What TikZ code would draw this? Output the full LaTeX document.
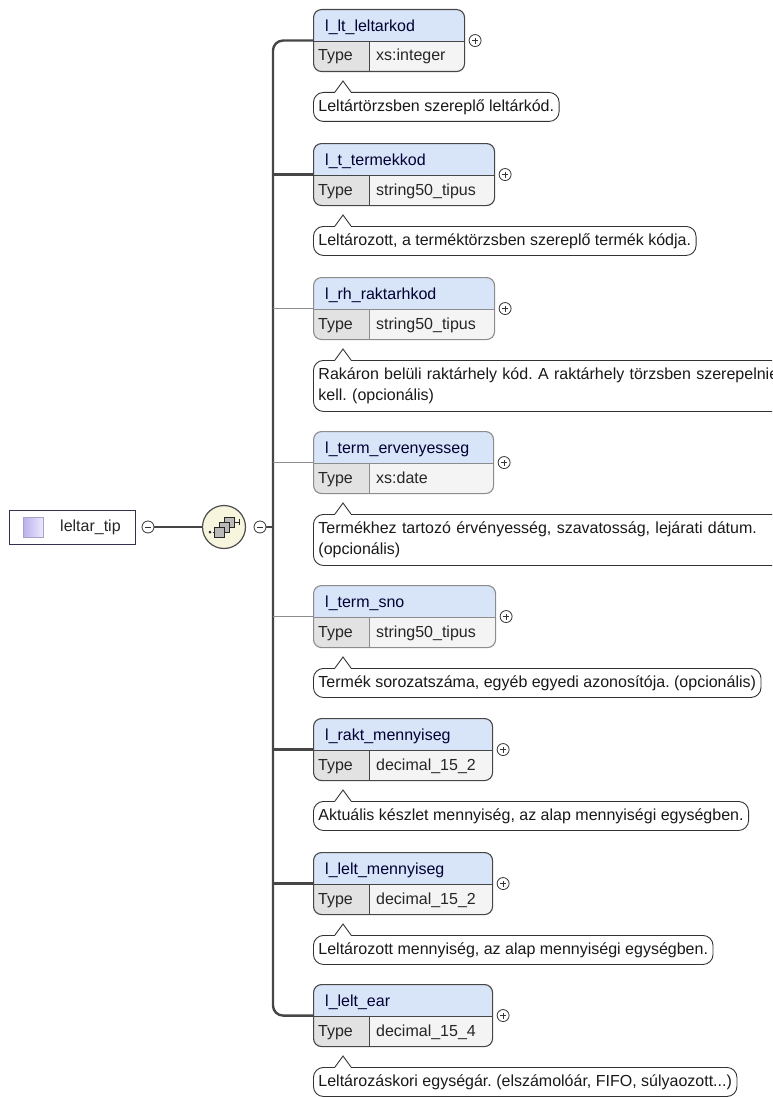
\documentclass[tikz,border=0pt]{standalone}
\usepackage{fontspec}
\setmainfont{Liberation Sans}
\usetikzlibrary{positioning}
\frenchspacing

\definecolor{headblue}{RGB}{216,228,248}
\definecolor{typegray}{RGB}{226,226,226}
\definecolor{valgray}{RGB}{244,244,244}
\definecolor{reqline}{RGB}{70,70,70}
\definecolor{optline}{RGB}{140,140,140}
\definecolor{seqfill}{RGB}{247,245,222}
\definecolor{rootframe}{RGB}{50,50,80}
\definecolor{iconlav}{RGB}{186,176,236}
\definecolor{iconpale}{RGB}{236,233,252}

\begin{document}
\begin{tikzpicture}[x=1pt, y=-1pt, font=\fontsize{16}{21}\selectfont\frenchspacing,
  elem/.style={draw=#1, line width=1.1pt, fill=valgray, rounded corners=8pt, anchor=north west,
    minimum height=62pt, inner sep=0pt,
    path picture={
      \fill[headblue, sharp corners] (path picture bounding box.north west) rectangle ([yshift=-32pt]path picture bounding box.north east);
      \fill[typegray, sharp corners] ([yshift=-32pt]path picture bounding box.north west) rectangle ([xshift=56pt]path picture bounding box.south west);
      \draw[#1, line width=1.1pt, sharp corners] ([yshift=-32pt]path picture bounding box.north west) -- ([yshift=-32pt]path picture bounding box.north east);
      \draw[#1, line width=1.1pt, sharp corners] ([xshift=56pt,yshift=-32pt]path picture bounding box.north west) -- ([xshift=56pt]path picture bounding box.south west);
    }},
  headtext/.style={anchor=west, inner sep=0pt, text height=11.5pt, text depth=3.5pt, text=black!80!blue},
  celltext/.style={anchor=west, inner sep=0pt, text height=11.5pt, text depth=3.5pt, text=black!85},
  note/.style={draw=black!80, line width=0.9pt, fill=white, rounded corners=10pt, anchor=north west,
    align=left, inner xsep=5pt, inner ysep=0pt, minimum height=29pt, text=black!90},
  tipline/.style={draw=black!80, line width=0.9pt},
  notetip/.pic={
    \fill[white] (-8,0.8) -- (0,-11) -- (8,0.8) -- cycle;
    \draw[tipline] (-8,0) -- (0,-11) -- (8,0);},
  expand/.style={circle, draw=black!80, fill=white, line width=0.8pt, minimum size=12pt, inner sep=0pt,
    path picture={
      \draw[black!80, line width=0.8pt] ([xshift=-3pt]path picture bounding box.center) -- ([xshift=3pt]path picture bounding box.center);
      \draw[black!80, line width=0.8pt] ([yshift=-3pt]path picture bounding box.center) -- ([yshift=3pt]path picture bounding box.center);}},
  collapse/.style={circle, draw=black!80, fill=white, line width=0.8pt, minimum size=12pt, inner sep=0pt,
    path picture={
      \draw[black!80, line width=0.8pt] ([xshift=-3pt]path picture bounding box.center) -- ([xshift=3pt]path picture bounding box.center);}},
  reqlink/.style={draw=reqline, line width=2.4pt},
  optlink/.style={draw=optline, line width=1pt},
  root/.style={draw=rootframe, line width=1.2pt, fill=white, anchor=north west, minimum width=126pt, minimum height=34pt, inner sep=0pt},
  rooticon/.style={draw=iconlav!70!gray, line width=0.5pt, left color=iconlav, right color=iconpale, minimum size=20pt, inner sep=0pt},
  seq/.style={circle, draw=black!70, fill=seqfill, line width=1.2pt, minimum size=43pt, inner sep=0pt},
  seqbox/.style={draw=black!85, fill=gray!55, line width=0.8pt}]

  \useasboundingbox (0,0) rectangle (772,1097);
  \clip (0,0) rectangle (772,1097);

  \node[root] (root) at (9,510) {};
  \node[rooticon] (icon) at ([xshift=24pt]root.west) {};
  \node[celltext] (rootlbl) at ([xshift=51pt]root.west) {leltar\_tip};

  \node[collapse] (m1) at (148,527) {};
  \node[seq] (seq) at (224,527) {};
  \node[collapse] (m2) at (260,527) {};
  \coordinate (bus) at (273,527);

  \begin{scope}[shift={(seq.center)}]
    \fill[black!85] (-14,5) circle (1.5);
    \draw[black!85, line width=0.9pt, dotted] (-14,5) -- (-10,5);
    \draw[black!85, line width=0.9pt] (10,-5) -- (15,-5);
    \draw[black!85, line width=0.9pt] (15,-8) -- (15,-2);
    \draw[seqbox] (0,-10) rectangle (10,0);
    \draw[seqbox] (-5,-5) rectangle (5,5);
    \draw[seqbox] (-10,0) rectangle (0,10);
  \end{scope}

  \draw[reqlink] (m1) -- (seq);
  \draw[reqlink] (m2) -- (bus);

  \node[elem=reqline, minimum width=151pt] (e1) at (313,9) {};
  \node[headtext] (h1) at ([shift={(12,18.5)}]e1.north west) {l\_lt\_leltarkod};
  \node[celltext] (ty1) at ([shift={(5,48)}]e1.north west) {Type};
  \node[celltext] (v1) at ([shift={(63,48)}]e1.north west) {xs:integer};
  \node[expand] (x1) at ([xshift=10pt]e1.east) {};
  \node[note] (c1) at (313,92) {Leltártörzsben szereplő leltárkód.};
  \pic at ([xshift=30pt]c1.north west) {notetip};

  \node[elem=reqline, minimum width=181pt] (e2) at (313,143) {};
  \node[headtext] (h2) at ([shift={(12,18.5)}]e2.north west) {l\_t\_termekkod};
  \node[celltext] (ty2) at ([shift={(5,48)}]e2.north west) {Type};
  \node[celltext] (v2) at ([shift={(63,48)}]e2.north west) {string50\_tipus};
  \node[expand] (x2) at ([xshift=10pt]e2.east) {};
  \node[note] (c2) at (313,226) {Leltározott, a terméktörzsben szereplő termék kódja.};
  \pic at ([xshift=30pt]c2.north west) {notetip};

  \node[elem=optline, minimum width=181pt] (e3) at (313,277) {};
  \node[headtext] (h3) at ([shift={(12,18.5)}]e3.north west) {l\_rh\_raktarhkod};
  \node[celltext] (ty3) at ([shift={(5,48)}]e3.north west) {Type};
  \node[celltext] (v3) at ([shift={(63,48)}]e3.north west) {string50\_tipus};
  \node[expand] (x3) at ([xshift=10pt]e3.east) {};
  \node[note, minimum height=51pt, text width=470pt] (c3) at (313,360) {Rakáron belüli raktárhely kód. A raktárhely törzsben szerepelnie\\kell. (opcionális)};
  \pic at ([xshift=30pt]c3.north west) {notetip};

  \node[elem=optline, minimum width=180pt] (e4) at (313,431) {};
  \node[headtext] (h4) at ([shift={(12,18.5)}]e4.north west) {l\_term\_ervenyesseg};
  \node[celltext] (ty4) at ([shift={(5,48)}]e4.north west) {Type};
  \node[celltext] (v4) at ([shift={(63,48)}]e4.north west) {xs:date};
  \node[expand] (x4) at ([xshift=10pt]e4.east) {};
  \node[note, minimum height=51pt, text width=470pt] (c4) at (313,514) {Termékhez tartozó érvényesség, szavatosság, lejárati dátum.\\(opcionális)};
  \pic at ([xshift=30pt]c4.north west) {notetip};

  \node[elem=optline, minimum width=182pt] (e5) at (313,585) {};
  \node[headtext] (h5) at ([shift={(12,18.5)}]e5.north west) {l\_term\_sno};
  \node[celltext] (ty5) at ([shift={(5,48)}]e5.north west) {Type};
  \node[celltext] (v5) at ([shift={(63,48)}]e5.north west) {string50\_tipus};
  \node[expand] (x5) at ([xshift=10pt]e5.east) {};
  \node[note] (c5) at (313,668) {Termék sorozatszáma, egyéb egyedi azonosítója. (opcionális)};
  \pic at ([xshift=30pt]c5.north west) {notetip};

  \node[elem=reqline, minimum width=179pt] (e6) at (313,718) {};
  \node[headtext] (h6) at ([shift={(12,18.5)}]e6.north west) {l\_rakt\_mennyiseg};
  \node[celltext] (ty6) at ([shift={(5,48)}]e6.north west) {Type};
  \node[celltext] (v6) at ([shift={(63,48)}]e6.north west) {decimal\_15\_2};
  \node[expand] (x6) at ([xshift=10pt]e6.east) {};
  \node[note] (c6) at (313,801) {Aktuális készlet mennyiség, az alap mennyiségi egységben.};
  \pic at ([xshift=30pt]c6.north west) {notetip};

  \node[elem=reqline, minimum width=179pt] (e7) at (313,852) {};
  \node[headtext] (h7) at ([shift={(12,18.5)}]e7.north west) {l\_lelt\_mennyiseg};
  \node[celltext] (ty7) at ([shift={(5,48)}]e7.north west) {Type};
  \node[celltext] (v7) at ([shift={(63,48)}]e7.north west) {decimal\_15\_2};
  \node[expand] (x7) at ([xshift=10pt]e7.east) {};
  \node[note] (c7) at (313,935) {Leltározott mennyiség, az alap mennyiségi egységben.};
  \pic at ([xshift=30pt]c7.north west) {notetip};

  \node[elem=reqline, minimum width=179pt] (e8) at (313,984) {};
  \node[headtext] (h8) at ([shift={(12,18.5)}]e8.north west) {l\_lelt\_ear};
  \node[celltext] (ty8) at ([shift={(5,48)}]e8.north west) {Type};
  \node[celltext] (v8) at ([shift={(63,48)}]e8.north west) {decimal\_15\_4};
  \node[expand] (x8) at ([xshift=10pt]e8.east) {};
  \node[note] (c8) at (313,1067) {Leltározáskori egységár. (elszámolóár, FIFO, súlyaozott...)};
  \pic at ([xshift=30pt]c8.north west) {notetip};

  \draw[reqlink, rounded corners=10pt] (e1.west) -- (bus |- e1.west) -- (bus |- e8.west) -- (e8.west);
  \draw[reqlink] (bus |- e2.west) -- (e2.west);
  \draw[optlink] (bus |- e3.west) -- (e3.west);
  \draw[optlink] (bus |- e4.west) -- (e4.west);
  \draw[optlink] (bus |- e5.west) -- (e5.west);
  \draw[reqlink] (bus |- e6.west) -- (e6.west);
  \draw[reqlink] (bus |- e7.west) -- (e7.west);
\end{tikzpicture}
\end{document}
